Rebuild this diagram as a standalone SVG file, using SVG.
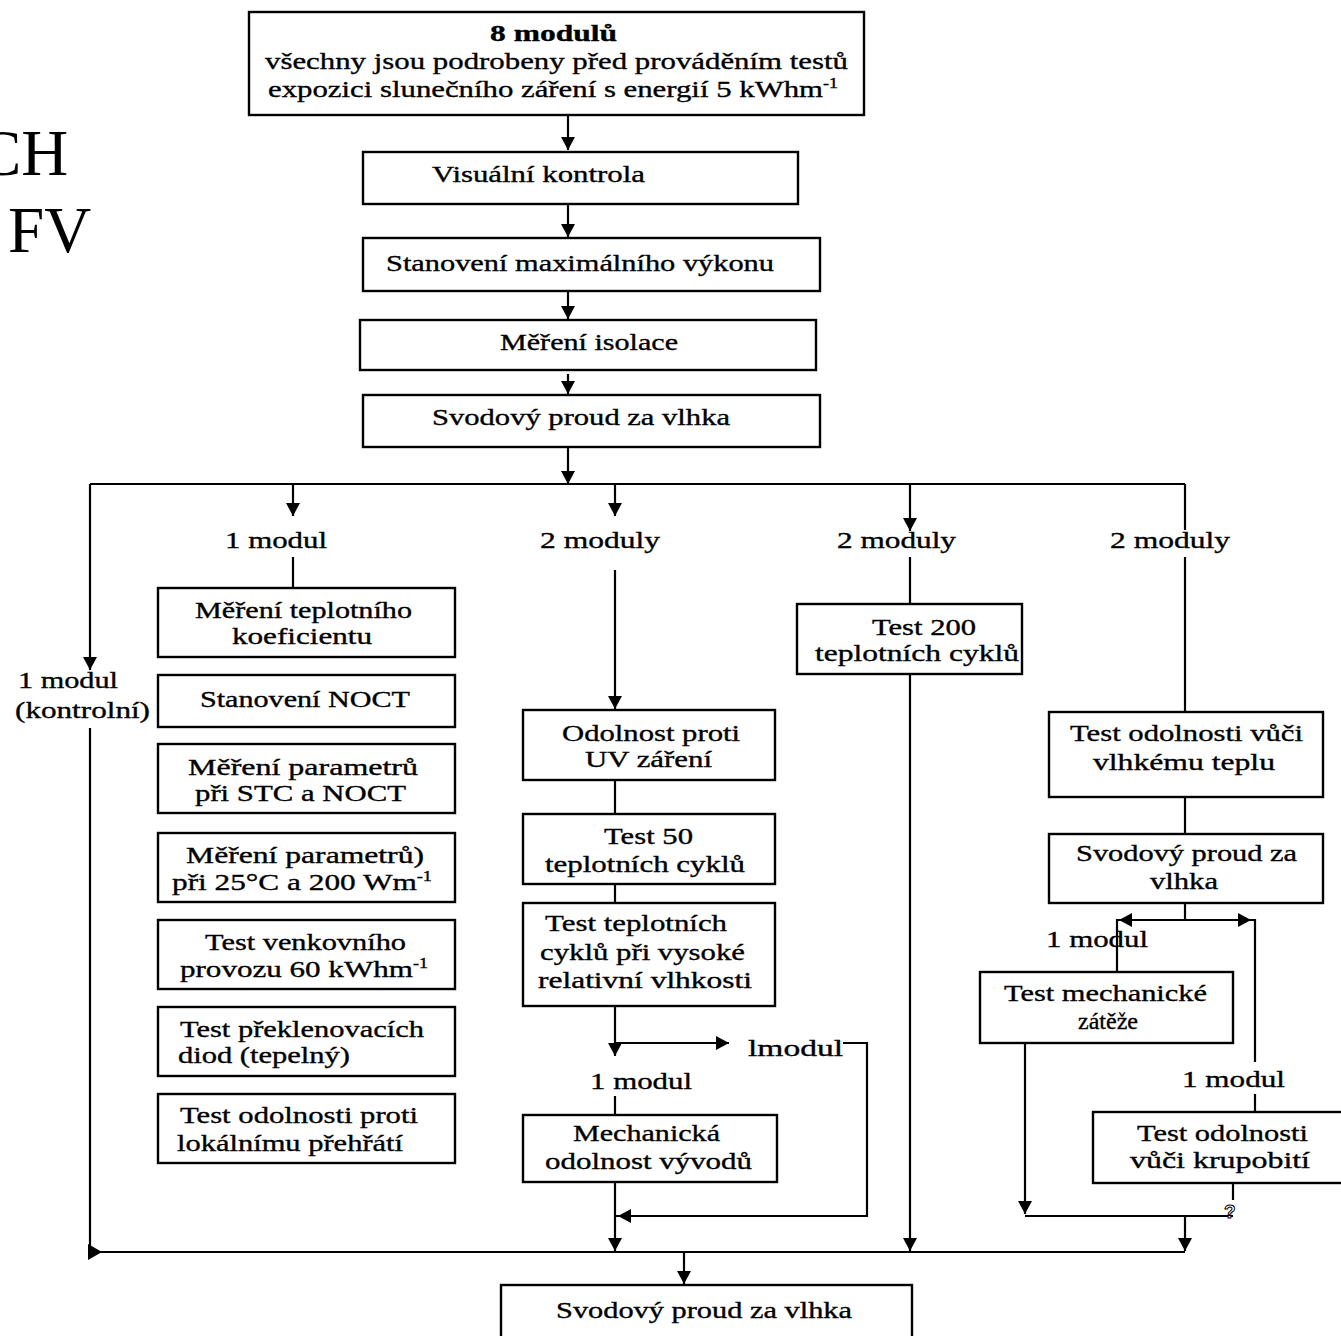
<svg xmlns="http://www.w3.org/2000/svg" xmlns:xlink="http://www.w3.org/1999/xlink" width="1341" height="1336" viewBox="0 0 1341 1336">
  <style>
    .box { fill: #fff; stroke: #000; stroke-width: 2.4; }
    .ln { fill: none; stroke: #000; stroke-width: 2.2; }
    .t { font-family: "Liberation Serif", "Times New Roman", serif; font-size: 24px; fill: #000; stroke: #000; stroke-width: 0.35; }
    .b { font-weight: bold; }
    .sup { font-size: 14px; }
    .alt { font-family: "DejaVu Serif", serif; font-size: 20px; }
    .big { font-family: "Liberation Serif", "Times New Roman", serif; font-size: 65px; fill: #000; }
  </style>
  <defs>
    <marker id="arr" markerUnits="userSpaceOnUse" markerWidth="16" markerHeight="16" refX="13" refY="7" orient="auto">
      <path d="M0,0 L13,7 L0,14 Z" fill="#000"/>
    </marker>
    <!-- arrowhead pointing down, tip at origin -->
    <path id="ah" d="M-7,-13 L7,-13 L0,0 Z" fill="#000"/>
  </defs>

  <!-- page heading fragments at the left edge -->
  <text class="big" x="-22" y="175">CH</text>
  <text class="big" x="8" y="252">FV</text>

  <!-- connectors -->
  <g id="connectors">
    <path class="ln" d="M568,115 V150" marker-end="url(#arr)"/>
    <path class="ln" d="M568,204 V237" marker-end="url(#arr)"/>
    <path class="ln" d="M568,291 V319" marker-end="url(#arr)"/>
    <path class="ln" d="M568,374 V394" marker-end="url(#arr)"/>
    <path class="ln" d="M568,447 V484" marker-end="url(#arr)"/>
    <path class="ln" d="M90,484 H1185"/>

    <!-- control module branch -->
    <path class="ln" d="M90,484 V670" marker-end="url(#arr)"/>
    <path class="ln" d="M90,728 V1252"/>
    <path d="M88,1244 L102,1252 L88,1260 Z" fill="#000"/>

    <!-- 1 modul branch -->
    <path class="ln" d="M293,484 V516" marker-end="url(#arr)"/>
    <path class="ln" d="M293,557 V588"/>

    <!-- 2 moduly, UV branch -->
    <path class="ln" d="M615,484 V516" marker-end="url(#arr)"/>
    <path class="ln" d="M615,570 V709" marker-end="url(#arr)"/>
    <path class="ln" d="M615,780 V814"/>
    <path class="ln" d="M615,884 V903"/>
    <path class="ln" d="M615,1006 V1056" marker-end="url(#arr)"/>
    <path class="ln" d="M615,1043 H729" marker-end="url(#arr)"/>
    <path class="ln" d="M615,1096 V1115"/>
    <path class="ln" d="M843,1043 H867 V1216 H615"/>
    <use xlink:href="#ah" transform="translate(618,1216) rotate(90)"/>
    <path class="ln" d="M615,1182 V1251" marker-end="url(#arr)"/>

    <!-- 2 moduly, 200 cycles branch -->
    <path class="ln" d="M910,484 V531" marker-end="url(#arr)"/>
    <path class="ln" d="M910,557 V604"/>
    <path class="ln" d="M910,674 V1251" marker-end="url(#arr)"/>

    <!-- 2 moduly, damp heat branch -->
    <path class="ln" d="M1185,484 V530"/>
    <path class="ln" d="M1185,557 V712"/>
    <path class="ln" d="M1185,797 V834"/>
    <path class="ln" d="M1185,903 V920"/>
    <path class="ln" d="M1117,955 V920 H1255 V1062"/>
    <use xlink:href="#ah" transform="translate(1119,920) rotate(90)"/>
    <use xlink:href="#ah" transform="translate(1251,920) rotate(-90)"/>
    <path class="ln" d="M1117,955 V972"/>
    <path class="ln" d="M1255,1094 V1112"/>
    <path class="ln" d="M1025,1043 V1214" marker-end="url(#arr)"/>
    <path class="ln" d="M1233,1183 V1200"/>
    <path class="ln" d="M1025,1216 H1233"/>
    <path class="ln" d="M1185,1216 V1251" marker-end="url(#arr)"/>

    <!-- collecting line -->
    <path class="ln" d="M90,1252 H1185"/>
    <path class="ln" d="M684,1252 V1284" marker-end="url(#arr)"/>
  </g>

  <!-- nodes -->
  <g id="n-start">
    <rect class="box" x="249" y="12" width="615" height="103"/>
    <text class="t b" x="490" y="41" textLength="127" lengthAdjust="spacingAndGlyphs">8 modulů</text>
    <text class="t" x="265" y="69" textLength="583" lengthAdjust="spacingAndGlyphs">všechny jsou podrobeny před prováděním testů</text>
    <text class="t" x="268" y="97" textLength="570" lengthAdjust="spacingAndGlyphs">expozici slunečního záření s energií 5 kWhm<tspan class="sup" dy="-9">-1</tspan></text>
  </g>
  <g id="n-visual">
    <rect class="box" x="363" y="152" width="435" height="52"/>
    <text class="t" x="432" y="182" textLength="213" lengthAdjust="spacingAndGlyphs">Visuální kontrola</text>
  </g>
  <g id="n-pmax">
    <rect class="box" x="363" y="238" width="457" height="53"/>
    <text class="t" x="386" y="271" textLength="388" lengthAdjust="spacingAndGlyphs">Stanovení maximálního výkonu</text>
  </g>
  <g id="n-isolation">
    <rect class="box" x="360" y="320" width="456" height="50"/>
    <text class="t" x="500" y="350" textLength="178" lengthAdjust="spacingAndGlyphs">Měření isolace</text>
  </g>
  <g id="n-wetleak">
    <rect class="box" x="363" y="395" width="457" height="52"/>
    <text class="t" x="432" y="425" textLength="298" lengthAdjust="spacingAndGlyphs">Svodový proud za vlhka</text>
  </g>

  <!-- branch labels -->
  <g id="branch-labels">
    <text class="t" x="18" y="688" textLength="100" lengthAdjust="spacingAndGlyphs">1 modul</text>
    <text class="t" x="15" y="718" textLength="135" lengthAdjust="spacingAndGlyphs">(kontrolní)</text>
    <text class="t" x="225" y="548" textLength="102" lengthAdjust="spacingAndGlyphs">1 modul</text>
    <text class="t" x="540" y="548" textLength="120" lengthAdjust="spacingAndGlyphs">2 moduly</text>
    <text class="t" x="837" y="548" textLength="119" lengthAdjust="spacingAndGlyphs">2 moduly</text>
    <text class="t" x="1110" y="548" textLength="120" lengthAdjust="spacingAndGlyphs">2 moduly</text>
    <text class="t" x="748" y="1056" textLength="95" lengthAdjust="spacingAndGlyphs">lmodul</text>
    <text class="t" x="590" y="1089" textLength="102" lengthAdjust="spacingAndGlyphs">1 modul</text>
    <text class="t" x="1046" y="947" textLength="102" lengthAdjust="spacingAndGlyphs">1 modul</text>
    <text class="t" x="1182" y="1087" textLength="103" lengthAdjust="spacingAndGlyphs">1 modul</text>
    <text x="1224" y="1218" font-family="Liberation Sans, sans-serif" font-size="19" font-weight="bold" fill="#fff" stroke="#000" stroke-width="1">?</text>
  </g>

  <!-- one-module test sequence -->
  <g id="n-tempcoef">
    <rect class="box" x="158" y="588" width="297" height="69"/>
    <text class="t" x="195" y="618" textLength="217" lengthAdjust="spacingAndGlyphs">Měření teplotního</text>
    <text class="t" x="232" y="644" textLength="140" lengthAdjust="spacingAndGlyphs">koeficientu</text>
  </g>
  <g id="n-noct">
    <rect class="box" x="158" y="675" width="297" height="52"/>
    <text class="t" x="200" y="707" textLength="210" lengthAdjust="spacingAndGlyphs">Stanovení NOCT</text>
  </g>
  <g id="n-stc">
    <rect class="box" x="158" y="744" width="297" height="69"/>
    <text class="t" x="188" y="775" textLength="230" lengthAdjust="spacingAndGlyphs">Měření  parametrů</text>
    <text class="t" x="195" y="801" textLength="211" lengthAdjust="spacingAndGlyphs">při STC a NOCT</text>
  </g>
  <g id="n-lowirr">
    <rect class="box" x="158" y="833" width="297" height="69"/>
    <text class="t" x="186" y="863" textLength="238" lengthAdjust="spacingAndGlyphs">Měření  parametrů)</text>
    <text class="t" x="172" y="890" textLength="260" lengthAdjust="spacingAndGlyphs">při 25°C a 200 Wm<tspan class="sup" dy="-9">-1</tspan></text>
  </g>
  <g id="n-outdoor">
    <rect class="box" x="158" y="920" width="297" height="69"/>
    <text class="t" x="205" y="950" textLength="201" lengthAdjust="spacingAndGlyphs">Test venkovního</text>
    <text class="t" x="180" y="977" textLength="248" lengthAdjust="spacingAndGlyphs">provozu 60 kWhm<tspan class="sup" dy="-9">-1</tspan></text>
  </g>
  <g id="n-bypass">
    <rect class="box" x="158" y="1007" width="297" height="69"/>
    <text class="t" x="180" y="1037" textLength="244" lengthAdjust="spacingAndGlyphs">Test překlenovacích</text>
    <text class="t" x="178" y="1063" textLength="172" lengthAdjust="spacingAndGlyphs">diod (tepelný)</text>
  </g>
  <g id="n-hotspot">
    <rect class="box" x="158" y="1094" width="297" height="69"/>
    <text class="t" x="180" y="1123" textLength="238" lengthAdjust="spacingAndGlyphs">Test odolnosti proti</text>
    <text class="t" x="177" y="1151" textLength="226" lengthAdjust="spacingAndGlyphs">lokálnímu přehřátí</text>
  </g>

  <!-- UV branch -->
  <g id="n-uv">
    <rect class="box" x="523" y="710" width="252" height="70"/>
    <text class="t" x="562" y="741" textLength="178" lengthAdjust="spacingAndGlyphs">Odolnost proti</text>
    <text class="t" x="585" y="767" textLength="127" lengthAdjust="spacingAndGlyphs">UV záření</text>
  </g>
  <g id="n-tc50">
    <rect class="box" x="523" y="814" width="252" height="70"/>
    <text class="t" x="604" y="844" textLength="89" lengthAdjust="spacingAndGlyphs">Test 50</text>
    <text class="t" x="545" y="872" textLength="200" lengthAdjust="spacingAndGlyphs">teplotních cyklů</text>
  </g>
  <g id="n-humfreeze">
    <rect class="box" x="523" y="903" width="252" height="103"/>
    <text class="t" x="545" y="931" textLength="182" lengthAdjust="spacingAndGlyphs">Test teplotních</text>
    <text class="t" x="540" y="960" textLength="205" lengthAdjust="spacingAndGlyphs">cyklů při vysoké</text>
    <text class="t" x="538" y="988" textLength="214" lengthAdjust="spacingAndGlyphs">relativní vlhkosti</text>
  </g>
  <g id="n-terminals">
    <rect class="box" x="523" y="1115" width="254" height="67"/>
    <text class="t" x="573" y="1141" textLength="147" lengthAdjust="spacingAndGlyphs">Mechanická</text>
    <text class="t" x="545" y="1169" textLength="207" lengthAdjust="spacingAndGlyphs">odolnost vývodů</text>
  </g>

  <!-- 200 cycles branch -->
  <g id="n-tc200">
    <rect class="box" x="797" y="604" width="225" height="70"/>
    <text class="t" x="872" y="635" textLength="104" lengthAdjust="spacingAndGlyphs">Test 200</text>
    <text class="t" x="815" y="661" textLength="204" lengthAdjust="spacingAndGlyphs">teplotních  cyklů</text>
  </g>

  <!-- damp heat branch -->
  <g id="n-dampheat">
    <rect class="box" x="1049" y="712" width="274" height="85"/>
    <text class="t" x="1070" y="741" textLength="233" lengthAdjust="spacingAndGlyphs">Test odolnosti vůči</text>
    <text class="t" x="1093" y="770" textLength="182" lengthAdjust="spacingAndGlyphs">vlhkému teplu</text>
  </g>
  <g id="n-wetleak2">
    <rect class="box" x="1049" y="834" width="274" height="69"/>
    <text class="t" x="1076" y="861" textLength="221" lengthAdjust="spacingAndGlyphs">Svodový proud za</text>
    <text class="t" x="1150" y="889" textLength="68" lengthAdjust="spacingAndGlyphs">vlhka</text>
  </g>
  <g id="n-mechload">
    <rect class="box" x="980" y="972" width="253" height="71"/>
    <text class="t" x="1004" y="1001" textLength="203" lengthAdjust="spacingAndGlyphs">Test mechanické</text>
    <text class="t" x="1078" y="1029"><tspan>zátě</tspan><tspan class="alt">ž</tspan><tspan>e</tspan></text>
  </g>
  <g id="n-hail">
    <rect class="box" x="1093" y="1112" width="260" height="71"/>
    <text class="t" x="1137" y="1141" textLength="171" lengthAdjust="spacingAndGlyphs">Test odolnosti</text>
    <text class="t" x="1130" y="1168" textLength="180" lengthAdjust="spacingAndGlyphs">vůči krupobití</text>
  </g>

  <!-- final check -->
  <g id="n-final">
    <rect class="box" x="501" y="1285" width="411" height="60"/>
    <text class="t" x="556" y="1318" textLength="296" lengthAdjust="spacingAndGlyphs">Svodový proud za vlhka</text>
  </g>
</svg>
